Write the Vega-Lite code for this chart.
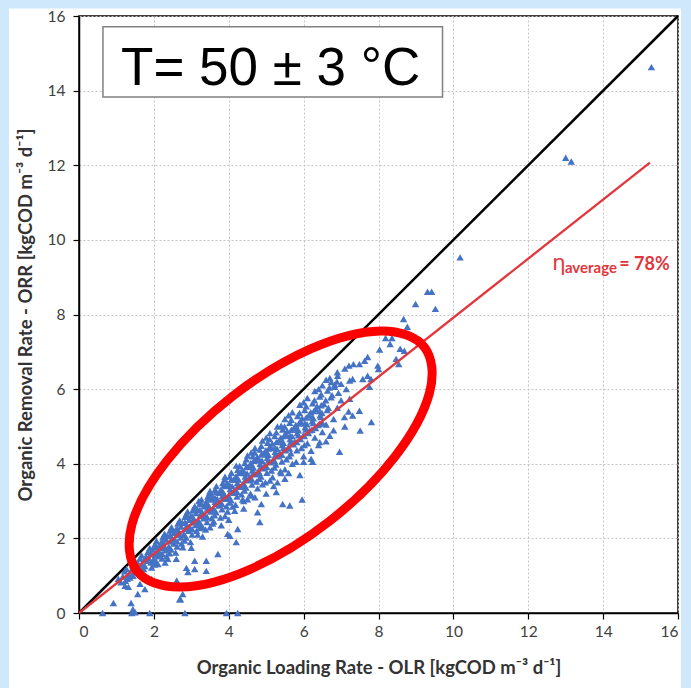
{
  "$schema": "https://vega.github.io/schema/vega-lite/v6.json",
  "width": 599,
  "height": 597,
  "autosize": {"type": "none"},
  "padding": {"left": 79, "top": 16, "right": 13, "bottom": 75},
  "background": "white",
  "config": {
    "view": {"stroke": "black", "strokeWidth": 1.5},
    "axis": {
      "domainColor": "black", "domainWidth": 1.5, "tickColor": "black", "tickSize": 6, "tickWidth": 1.2,
      "labelFont": "Lato", "labelFontSize": 15.5, "labelColor": "#404040",
      "titleFont": "Lato", "titleFontSize": 18.5, "titleFontWeight": "bold", "titleColor": "#333333",
      "gridColor": "#c4c4c4", "gridDash": [2, 2], "gridWidth": 1
    }
  },
  "datasets": {
    "pts": [
      {"olr":1.22,"orr":1.12},{"olr":1.17,"orr":0.98},{"olr":1.24,"orr":0.86},
      {"olr":1.27,"orr":1.18},{"olr":1.34,"orr":1.02},{"olr":1.29,"orr":0.92},
      {"olr":1.44,"orr":1.28},{"olr":1.39,"orr":1.14},{"olr":1.43,"orr":1.02},{"olr":1.36,"orr":0.95},
      {"olr":1.49,"orr":1.38},{"olr":1.53,"orr":1.25},{"olr":1.46,"orr":1.12},
      {"olr":1.63,"orr":1.46},{"olr":1.56,"orr":1.36},{"olr":1.62,"orr":1.22},{"olr":1.58,"orr":1.10},
      {"olr":1.67,"orr":1.55},{"olr":1.74,"orr":1.43},{"olr":1.69,"orr":1.30},{"olr":1.73,"orr":1.18},
      {"olr":1.84,"orr":1.64},{"olr":1.79,"orr":1.52},{"olr":1.83,"orr":1.40},{"olr":1.76,"orr":1.26},
      {"olr":1.89,"orr":1.74},{"olr":1.93,"orr":1.60},{"olr":1.86,"orr":1.48},{"olr":1.92,"orr":1.35},{"olr":1.94,"orr":1.22},
      {"olr":2.03,"orr":1.84},{"olr":1.96,"orr":1.70},{"olr":2.04,"orr":1.56},{"olr":1.99,"orr":1.44},{"olr":2.02,"orr":1.30},
      {"olr":2.07,"orr":1.93},{"olr":2.14,"orr":1.79},{"olr":2.09,"orr":1.66},{"olr":2.13,"orr":1.52},{"olr":2.06,"orr":1.38},
      {"olr":2.24,"orr":2.03},{"olr":2.19,"orr":1.88},{"olr":2.23,"orr":1.74},{"olr":2.16,"orr":1.60},{"olr":2.22,"orr":1.46},
      {"olr":2.29,"orr":2.12},{"olr":2.33,"orr":1.97},{"olr":2.26,"orr":1.83},{"olr":2.32,"orr":1.68},{"olr":2.34,"orr":1.52},
      {"olr":2.43,"orr":2.21},{"olr":2.36,"orr":2.06},{"olr":2.44,"orr":1.92},{"olr":2.39,"orr":1.76},{"olr":2.42,"orr":1.60},{"olr":2.37,"orr":1.45},
      {"olr":2.47,"orr":2.30},{"olr":2.54,"orr":2.15},{"olr":2.49,"orr":2.00},{"olr":2.53,"orr":1.86},{"olr":2.46,"orr":1.70},
      {"olr":2.64,"orr":2.40},{"olr":2.59,"orr":2.24},{"olr":2.63,"orr":2.10},{"olr":2.56,"orr":1.95},{"olr":2.62,"orr":1.78},{"olr":2.58,"orr":1.62},
      {"olr":2.69,"orr":2.48},{"olr":2.73,"orr":2.32},{"olr":2.66,"orr":2.18},{"olr":2.72,"orr":2.02},{"olr":2.74,"orr":1.86},
      {"olr":2.83,"orr":2.58},{"olr":2.76,"orr":2.42},{"olr":2.84,"orr":2.26},{"olr":2.79,"orr":2.10},{"olr":2.82,"orr":1.94},{"olr":2.77,"orr":1.76},
      {"olr":2.87,"orr":2.66},{"olr":2.94,"orr":2.50},{"olr":2.89,"orr":2.35},{"olr":2.93,"orr":2.20},{"olr":2.86,"orr":2.02},
      {"olr":3.04,"orr":2.76},{"olr":2.99,"orr":2.60},{"olr":3.03,"orr":2.44},{"olr":2.96,"orr":2.28},{"olr":3.02,"orr":2.10},{"olr":2.98,"orr":1.90},
      {"olr":3.09,"orr":2.86},{"olr":3.13,"orr":2.68},{"olr":3.06,"orr":2.52},{"olr":3.12,"orr":2.36},{"olr":3.14,"orr":2.20},
      {"olr":3.23,"orr":2.94},{"olr":3.16,"orr":2.78},{"olr":3.24,"orr":2.62},{"olr":3.19,"orr":2.46},{"olr":3.22,"orr":2.28},{"olr":3.17,"orr":2.10},
      {"olr":3.27,"orr":3.04},{"olr":3.34,"orr":2.86},{"olr":3.29,"orr":2.70},{"olr":3.33,"orr":2.54},{"olr":3.26,"orr":2.36},
      {"olr":3.44,"orr":3.12},{"olr":3.39,"orr":2.96},{"olr":3.43,"orr":2.80},{"olr":3.36,"orr":2.62},{"olr":3.42,"orr":2.44},{"olr":3.38,"orr":2.24},
      {"olr":3.49,"orr":3.22},{"olr":3.53,"orr":3.04},{"olr":3.46,"orr":2.88},{"olr":3.52,"orr":2.72},{"olr":3.54,"orr":2.54},
      {"olr":3.63,"orr":3.30},{"olr":3.56,"orr":3.14},{"olr":3.64,"orr":2.98},{"olr":3.59,"orr":2.80},{"olr":3.62,"orr":2.62},{"olr":3.57,"orr":2.40},
      {"olr":3.67,"orr":3.40},{"olr":3.74,"orr":3.22},{"olr":3.69,"orr":3.06},{"olr":3.73,"orr":2.88},{"olr":3.66,"orr":2.70},
      {"olr":3.84,"orr":3.48},{"olr":3.79,"orr":3.30},{"olr":3.83,"orr":3.14},{"olr":3.76,"orr":2.96},{"olr":3.82,"orr":2.78},{"olr":3.78,"orr":2.56},
      {"olr":3.89,"orr":3.58},{"olr":3.93,"orr":3.40},{"olr":3.86,"orr":3.22},{"olr":3.92,"orr":3.06},{"olr":3.94,"orr":2.86},
      {"olr":4.03,"orr":3.66},{"olr":3.96,"orr":3.48},{"olr":4.04,"orr":3.32},{"olr":3.99,"orr":3.14},{"olr":4.02,"orr":2.96},{"olr":3.97,"orr":2.72},
      {"olr":4.07,"orr":3.76},{"olr":4.14,"orr":3.58},{"olr":4.09,"orr":3.40},{"olr":4.13,"orr":3.22},{"olr":4.06,"orr":3.02},
      {"olr":4.24,"orr":3.84},{"olr":4.19,"orr":3.66},{"olr":4.23,"orr":3.48},{"olr":4.16,"orr":3.30},{"olr":4.22,"orr":3.12},{"olr":4.18,"orr":2.90},
      {"olr":4.29,"orr":3.94},{"olr":4.33,"orr":3.76},{"olr":4.26,"orr":3.58},{"olr":4.32,"orr":3.38},{"olr":4.34,"orr":3.18},
      {"olr":4.43,"orr":4.02},{"olr":4.36,"orr":3.84},{"olr":4.44,"orr":3.66},{"olr":4.39,"orr":3.48},{"olr":4.42,"orr":3.28},{"olr":4.37,"orr":3.04},
      {"olr":4.47,"orr":4.12},{"olr":4.54,"orr":3.92},{"olr":4.49,"orr":3.74},{"olr":4.53,"orr":3.56},{"olr":4.46,"orr":3.36},
      {"olr":4.64,"orr":4.20},{"olr":4.59,"orr":4.02},{"olr":4.63,"orr":3.82},{"olr":4.56,"orr":3.64},{"olr":4.62,"orr":3.44},{"olr":4.58,"orr":3.20},
      {"olr":4.69,"orr":4.30},{"olr":4.73,"orr":4.10},{"olr":4.66,"orr":3.90},{"olr":4.72,"orr":3.72},{"olr":4.74,"orr":3.52},
      {"olr":4.83,"orr":4.38},{"olr":4.76,"orr":4.18},{"olr":4.84,"orr":4.00},{"olr":4.79,"orr":3.80},{"olr":4.82,"orr":3.60},{"olr":4.77,"orr":3.34},
      {"olr":4.87,"orr":4.48},{"olr":4.94,"orr":4.28},{"olr":4.89,"orr":4.08},{"olr":4.93,"orr":3.88},{"olr":4.86,"orr":3.66},
      {"olr":5.04,"orr":4.56},{"olr":4.99,"orr":4.36},{"olr":5.03,"orr":4.16},{"olr":4.96,"orr":3.96},{"olr":5.02,"orr":3.76},{"olr":4.98,"orr":3.50},
      {"olr":5.09,"orr":4.66},{"olr":5.13,"orr":4.44},{"olr":5.06,"orr":4.24},{"olr":5.12,"orr":4.04},{"olr":5.14,"orr":3.82},
      {"olr":5.23,"orr":4.74},{"olr":5.16,"orr":4.54},{"olr":5.24,"orr":4.32},{"olr":5.19,"orr":4.12},{"olr":5.22,"orr":3.90},{"olr":5.17,"orr":3.64},
      {"olr":5.27,"orr":4.84},{"olr":5.34,"orr":4.62},{"olr":5.29,"orr":4.40},{"olr":5.33,"orr":4.20},{"olr":5.26,"orr":3.98},
      {"olr":5.44,"orr":4.92},{"olr":5.39,"orr":4.70},{"olr":5.43,"orr":4.50},{"olr":5.36,"orr":4.28},{"olr":5.42,"orr":4.06},{"olr":5.38,"orr":3.80},
      {"olr":5.49,"orr":5.00},{"olr":5.53,"orr":4.78},{"olr":5.46,"orr":4.56},{"olr":5.52,"orr":4.36},{"olr":5.54,"orr":4.12},
      {"olr":5.63,"orr":5.10},{"olr":5.56,"orr":4.88},{"olr":5.64,"orr":4.66},{"olr":5.59,"orr":4.44},{"olr":5.62,"orr":4.20},
      {"olr":5.67,"orr":5.18},{"olr":5.74,"orr":4.96},{"olr":5.69,"orr":4.74},{"olr":5.73,"orr":4.52},{"olr":5.66,"orr":4.28},
      {"olr":5.84,"orr":5.28},{"olr":5.79,"orr":5.04},{"olr":5.83,"orr":4.82},{"olr":5.76,"orr":4.60},{"olr":5.82,"orr":4.36},
      {"olr":5.89,"orr":5.36},{"olr":5.93,"orr":5.12},{"olr":5.86,"orr":4.90},{"olr":5.92,"orr":4.66},{"olr":5.94,"orr":4.42},
      {"olr":6.03,"orr":5.44},{"olr":5.96,"orr":5.22},{"olr":6.04,"orr":4.98},{"olr":5.99,"orr":4.76},{"olr":6.02,"orr":4.50},
      {"olr":6.07,"orr":5.54},{"olr":6.14,"orr":5.30},{"olr":6.09,"orr":5.06},{"olr":6.13,"orr":4.82},
      {"olr":6.24,"orr":5.62},{"olr":6.19,"orr":5.38},{"olr":6.23,"orr":5.14},{"olr":6.16,"orr":4.90},
      {"olr":6.29,"orr":5.70},{"olr":6.33,"orr":5.46},{"olr":6.26,"orr":5.22},{"olr":6.32,"orr":4.96},
      {"olr":6.43,"orr":5.80},{"olr":6.36,"orr":5.54},{"olr":6.44,"orr":5.30},{"olr":6.39,"orr":5.04},
      {"olr":6.47,"orr":5.86},{"olr":6.54,"orr":5.60},{"olr":6.49,"orr":5.36},
      {"olr":6.64,"orr":5.96},{"olr":6.59,"orr":5.70},{"olr":6.63,"orr":5.44},
      {"olr":6.69,"orr":6.04},{"olr":6.73,"orr":5.78},{"olr":6.66,"orr":5.50},
      {"olr":6.83,"orr":6.12},{"olr":6.76,"orr":5.84},
      {"olr":6.89,"orr":6.20},{"olr":6.93,"orr":5.90},
      {"olr":2.07,"orr":1.92},{"olr":2.03,"orr":1.76},{"olr":2.06,"orr":1.60},{"olr":2.02,"orr":1.42},
      {"olr":2.27,"orr":2.09},{"olr":2.23,"orr":1.93},{"olr":2.26,"orr":1.77},{"olr":2.22,"orr":1.59},
      {"olr":2.47,"orr":2.25},{"olr":2.43,"orr":2.09},{"olr":2.46,"orr":1.93},{"olr":2.42,"orr":1.75},
      {"olr":2.67,"orr":2.42},{"olr":2.63,"orr":2.26},{"olr":2.66,"orr":2.10},{"olr":2.62,"orr":1.92},
      {"olr":2.87,"orr":2.59},{"olr":2.83,"orr":2.43},{"olr":2.86,"orr":2.27},{"olr":2.82,"orr":2.09},
      {"olr":3.07,"orr":2.75},{"olr":3.03,"orr":2.59},{"olr":3.06,"orr":2.43},{"olr":3.02,"orr":2.25},
      {"olr":3.27,"orr":2.92},{"olr":3.23,"orr":2.76},{"olr":3.26,"orr":2.60},{"olr":3.22,"orr":2.42},
      {"olr":3.47,"orr":3.08},{"olr":3.43,"orr":2.92},{"olr":3.46,"orr":2.76},{"olr":3.42,"orr":2.58},
      {"olr":3.67,"orr":3.25},{"olr":3.63,"orr":3.09},{"olr":3.66,"orr":2.93},{"olr":3.62,"orr":2.75},
      {"olr":3.87,"orr":3.42},{"olr":3.83,"orr":3.26},{"olr":3.86,"orr":3.10},{"olr":3.82,"orr":2.92},
      {"olr":4.07,"orr":3.58},{"olr":4.03,"orr":3.42},{"olr":4.06,"orr":3.26},{"olr":4.02,"orr":3.08},
      {"olr":4.27,"orr":3.75},{"olr":4.23,"orr":3.59},{"olr":4.26,"orr":3.43},{"olr":4.22,"orr":3.25},
      {"olr":4.47,"orr":3.91},{"olr":4.43,"orr":3.75},{"olr":4.46,"orr":3.59},{"olr":4.42,"orr":3.41},
      {"olr":4.67,"orr":4.08},{"olr":4.63,"orr":3.92},{"olr":4.66,"orr":3.76},{"olr":4.62,"orr":3.58},
      {"olr":4.87,"orr":4.25},{"olr":4.83,"orr":4.09},{"olr":4.86,"orr":3.93},{"olr":4.82,"orr":3.75},
      {"olr":5.07,"orr":4.41},{"olr":5.03,"orr":4.25},{"olr":5.06,"orr":4.09},{"olr":5.02,"orr":3.91},
      {"olr":5.27,"orr":4.58},{"olr":5.23,"orr":4.42},{"olr":5.26,"orr":4.26},{"olr":5.22,"orr":4.08},
      {"olr":5.47,"orr":4.74},{"olr":5.43,"orr":4.58},{"olr":5.46,"orr":4.42},{"olr":5.42,"orr":4.24},
      {"olr":5.67,"orr":4.91},{"olr":5.63,"orr":4.75},{"olr":5.66,"orr":4.59},{"olr":5.62,"orr":4.41},
      {"olr":5.87,"orr":5.08},{"olr":5.83,"orr":4.92},{"olr":5.86,"orr":4.76},{"olr":5.82,"orr":4.58},
      {"olr":6.07,"orr":5.24},{"olr":6.03,"orr":5.08},{"olr":6.06,"orr":4.92},{"olr":6.02,"orr":4.74},
      {"olr":6.27,"orr":5.41},{"olr":6.23,"orr":5.25},{"olr":6.26,"orr":5.09},{"olr":6.22,"orr":4.91},
      {"olr":6.47,"orr":5.57},{"olr":6.43,"orr":5.41},{"olr":6.46,"orr":5.25},{"olr":6.42,"orr":5.07},
      {"olr":4.5,"orr":4.22},{"olr":4.7,"orr":4.42},{"olr":4.9,"orr":4.62},{"olr":5.1,"orr":4.82},{"olr":5.3,"orr":5.0},{"olr":5.5,"orr":5.2},
      {"olr":5.7,"orr":5.38},{"olr":5.9,"orr":5.58},{"olr":6.1,"orr":5.76},{"olr":6.3,"orr":5.95},{"olr":6.5,"orr":6.1},{"olr":6.6,"orr":6.25},
      {"olr":4.6,"orr":4.3},{"olr":5.0,"orr":4.7},{"olr":5.6,"orr":5.3},{"olr":6.0,"orr":5.65},{"olr":6.4,"orr":6.0},{"olr":3.5,"orr":3.27},
      {"olr":3.9,"orr":3.65},{"olr":4.2,"orr":3.95},{"olr":3.2,"orr":3.0},{"olr":2.9,"orr":2.72},{"olr":6.7,"orr":6.3},{"olr":6.9,"orr":6.45},{"olr":7.1,"orr":6.55},
      {"olr":3.6,"orr":2.45},{"olr":4.1,"orr":2.85},{"olr":4.6,"orr":3.15},{"olr":5.1,"orr":3.55},{"olr":5.4,"orr":3.75},{"olr":5.7,"orr":4.0},
      {"olr":6.2,"orr":4.35},{"olr":6.4,"orr":4.5},{"olr":6.7,"orr":4.75},{"olr":3.3,"orr":2.3},{"olr":4.9,"orr":3.45},{"olr":5.5,"orr":3.85},
      {"olr":6.0,"orr":4.05},{"olr":6.6,"orr":4.6},{"olr":7.2,"orr":5.4},{"olr":7.1,"orr":5.0},{"olr":6.8,"orr":4.9},{"olr":5.2,"orr":3.4},
      {"olr":4.4,"orr":3.0},{"olr":3.9,"orr":2.6},
      {"olr":1.05,"orr":0.92},{"olr":1.12,"orr":0.82},
      {"olr":0.63,"orr":0.0},{"olr":1.41,"orr":0.0},{"olr":1.5,"orr":0.02},{"olr":1.89,"orr":0.0},{"olr":2.83,"orr":0.0},{"olr":3.94,"orr":0.0},{"olr":4.24,"orr":0.0},
      {"olr":0.92,"orr":0.27},{"olr":1.39,"orr":0.27},{"olr":2.71,"orr":0.37},{"olr":1.44,"orr":0.1},
      {"olr":2.87,"orr":1.21},{"olr":3.09,"orr":1.18},{"olr":3.40,"orr":1.13},{"olr":2.61,"orr":0.87},{"olr":2.69,"orr":0.37},{"olr":2.77,"orr":0.51},
      {"olr":1.44,"orr":1.0},{"olr":1.23,"orr":0.73},{"olr":1.32,"orr":0.70},{"olr":1.63,"orr":0.78},{"olr":1.76,"orr":0.64},{"olr":1.57,"orr":0.51},
      {"olr":1.94,"orr":0.91},{"olr":2.11,"orr":1.31},{"olr":4.16,"orr":2.74},{"olr":4.83,"orr":2.44},{"olr":4.87,"orr":2.92},{"olr":4.77,"orr":2.7},
      {"olr":3.97,"orr":2.12},{"olr":4.2,"orr":1.9},{"olr":3.71,"orr":1.58},{"olr":3.40,"orr":1.40},{"olr":3.09,"orr":1.40},{"olr":2.91,"orr":1.10},
      {"olr":4.24,"orr":2.25},{"olr":4.03,"orr":2.07},{"olr":5.27,"orr":3.24},{"olr":5.44,"orr":2.92},{"olr":5.63,"orr":2.88},{"olr":5.96,"orr":3.04},
      {"olr":6.24,"orr":4.05},{"olr":6.2,"orr":4.13},{"olr":6.96,"orr":4.32},{"olr":6.43,"orr":4.58},{"olr":5.40,"orr":5.02},
      {"olr":2.3,"orr":1.35},{"olr":2.6,"orr":1.45},{"olr":3.0,"orr":1.75},{"olr":3.3,"orr":2.05},{"olr":3.5,"orr":2.3},{"olr":3.8,"orr":2.35},
      {"olr":4.0,"orr":2.5},{"olr":4.4,"orr":2.8},{"olr":4.5,"orr":3.05},{"olr":4.7,"orr":3.1},{"olr":5.0,"orr":3.2},{"olr":5.3,"orr":3.5},
      {"olr":5.6,"orr":3.75},{"olr":5.8,"orr":4.05},{"olr":6.0,"orr":4.2},{"olr":6.1,"orr":4.55},{"olr":6.3,"orr":4.7},{"olr":6.5,"orr":4.85},
      {"olr":6.6,"orr":5.05},{"olr":6.8,"orr":5.2},{"olr":5.9,"orr":3.7},{"olr":5.5,"orr":3.6},{"olr":6.5,"orr":5.1},{"olr":6.9,"orr":5.5},{"olr":7.0,"orr":5.7},
      {"olr":7.21,"orr":6.63},{"olr":7.33,"orr":6.67},{"olr":7.49,"orr":6.67},{"olr":7.63,"orr":6.76},{"olr":7.71,"orr":6.86},{"olr":7.98,"orr":6.63},
      {"olr":8.0,"orr":6.54},{"olr":7.71,"orr":6.36},{"olr":7.80,"orr":6.27},{"olr":7.76,"orr":6.06},{"olr":7.58,"orr":6.27},{"olr":7.31,"orr":6.27},
      {"olr":7.23,"orr":6.23},{"olr":6.91,"orr":6.36},{"olr":6.74,"orr":6.19},{"olr":7.0,"orr":6.14},{"olr":6.83,"orr":6.06},{"olr":7.14,"orr":6.0},
      {"olr":7.23,"orr":5.74},{"olr":7.49,"orr":5.42},{"olr":7.31,"orr":5.29},{"olr":7.09,"orr":5.25},{"olr":7.51,"orr":4.89},{"olr":7.81,"orr":5.12},
      {"olr":8.03,"orr":7.06},{"olr":8.19,"orr":7.37},{"olr":8.36,"orr":7.37},{"olr":8.31,"orr":7.21},{"olr":8.58,"orr":7.08},{"olr":8.69,"orr":7.03},
      {"olr":8.47,"orr":6.81},{"olr":8.54,"orr":6.67},{"olr":8.67,"orr":7.88},{"olr":8.77,"orr":7.67},{"olr":8.99,"orr":8.28},{"olr":9.52,"orr":8.15},
      {"olr":9.31,"orr":8.61},{"olr":9.42,"orr":8.61},{"olr":10.18,"orr":9.53},{"olr":13.0,"orr":12.2},{"olr":13.15,"orr":12.1},{"olr":15.29,"orr":14.63}
    ]
  },
  "layer": [
    {
      "data": {"values": [
        {"x1": -2.4, "x2": 16.7, "y1": 16.2, "y2": 17.2},
        {"x1": -2.4, "x2": -1.87, "y1": -2.4, "y2": 17.2},
        {"x1": 16.08, "x2": 16.7, "y1": -2.4, "y2": 17.2}
      ]},
      "mark": {"type": "rect", "fill": "#cfe8fb", "clip": false},
      "encoding": {
        "x": {"field": "x1", "type": "quantitative", "scale": {"domain": [0, 16], "nice": false, "zero": false},
          "axis": {"values": [0,2,4,6,8,10,12,14,16], "title": "Organic Loading Rate - OLR [kgCOD m⁻³ d⁻¹]", "labelPadding": 5, "titlePadding": 19, "grid": true}},
        "x2": {"field": "x2"},
        "y": {"field": "y1", "type": "quantitative", "scale": {"domain": [0, 16], "nice": false, "zero": false},
          "axis": {"values": [0,2,4,6,8,10,12,14,16], "title": "Organic Removal Rate - ORR [kgCOD m⁻³ d⁻¹]", "labelPadding": 8, "titlePadding": 12, "grid": true}},
        "y2": {"field": "y2"}
      }
    },
    {
      "data": {"values": [{"x1": 0, "y1": 0}, {"x1": 16, "y1": 16}]},
      "mark": {"type": "line", "color": "black", "strokeWidth": 2.5},
      "encoding": {"x": {"field": "x1", "type": "quantitative"}, "y": {"field": "y1", "type": "quantitative"}}
    },
    {
      "data": {"name": "pts"},
      "mark": {"type": "point", "shape": "triangle-up", "filled": true, "color": "#4472c4", "opacity": 1, "size": 55},
      "encoding": {"x": {"field": "olr", "type": "quantitative"}, "y": {"field": "orr", "type": "quantitative"}}
    },
    {
      "data": {"values": [{"x1": 0, "y1": 0}, {"x1": 15.25, "y1": 12.07}]},
      "mark": {"type": "line", "color": "#e2363c", "strokeWidth": 2.3},
      "encoding": {"x": {"field": "x1", "type": "quantitative"}, "y": {"field": "y1", "type": "quantitative"}}
    },
    {
      "data": {"values": [
        {"i": 0, "x1": 9.227, "y1": 7.124}, {"i": 1, "x1": 9.359, "y1": 5.889}, {"i": 2, "x1": 8.427, "y1": 4.176},
        {"i": 3, "x1": 6.680, "y1": 2.452}, {"i": 4, "x1": 4.587, "y1": 1.179}, {"i": 5, "x1": 2.708, "y1": 0.697},
        {"i": 6, "x1": 1.547, "y1": 1.126}, {"i": 7, "x1": 1.413, "y1": 2.372}, {"i": 8, "x1": 2.347, "y1": 4.079},
        {"i": 9, "x1": 4.093, "y1": 5.802}, {"i": 10, "x1": 6.187, "y1": 7.077}, {"i": 11, "x1": 8.065, "y1": 7.559}
      ]},
      "mark": {"type": "line", "color": "#ff0000", "strokeWidth": 9, "interpolate": "cardinal-closed"},
      "encoding": {"x": {"field": "x1", "type": "quantitative"}, "y": {"field": "y1", "type": "quantitative"}, "order": {"field": "i", "type": "quantitative"}}
    },
    {
      "data": {"values": [{"x1": 0.64, "x2": 9.71, "y1": 15.71, "y2": 13.83}]},
      "mark": {"type": "rect", "fill": "white", "stroke": "#808080", "strokeWidth": 1.5},
      "encoding": {"x": {"field": "x1", "type": "quantitative"}, "x2": {"field": "x2"}, "y": {"field": "y1", "type": "quantitative"}, "y2": {"field": "y2"}}
    },
    {
      "data": {"values": [{"x1": 5.12, "y1": 14.15, "t": "T= 50 ± 3 °C"}]},
      "mark": {"type": "text", "font": "Liberation Sans", "fontSize": 53, "align": "center", "baseline": "alphabetic", "color": "black"},
      "encoding": {"x": {"field": "x1", "type": "quantitative"}, "y": {"field": "y1", "type": "quantitative"}, "text": {"field": "t"}}
    },
    {
      "data": {"values": [{"x1": 12.64, "y1": 9.2, "t": "η"}]},
      "mark": {"type": "text", "font": "Noto Sans", "fontSize": 22, "align": "left", "baseline": "alphabetic", "color": "#e2363c"},
      "encoding": {"x": {"field": "x1", "type": "quantitative"}, "y": {"field": "y1", "type": "quantitative"}, "text": {"field": "t"}}
    },
    {
      "data": {"values": [{"x1": 12.98, "y1": 9.1, "t": "average"}]},
      "mark": {"type": "text", "font": "Lato", "fontSize": 15, "fontWeight": "bold", "align": "left", "baseline": "alphabetic", "color": "#e2363c"},
      "encoding": {"x": {"field": "x1", "type": "quantitative"}, "y": {"field": "y1", "type": "quantitative"}, "text": {"field": "t"}}
    },
    {
      "data": {"values": [{"x1": 14.43, "y1": 9.2, "t": "= 78%"}]},
      "mark": {"type": "text", "font": "Lato", "fontSize": 18, "fontWeight": "bold", "align": "left", "baseline": "alphabetic", "color": "#e2363c"},
      "encoding": {"x": {"field": "x1", "type": "quantitative"}, "y": {"field": "y1", "type": "quantitative"}, "text": {"field": "t"}}
    }
  ]
}
